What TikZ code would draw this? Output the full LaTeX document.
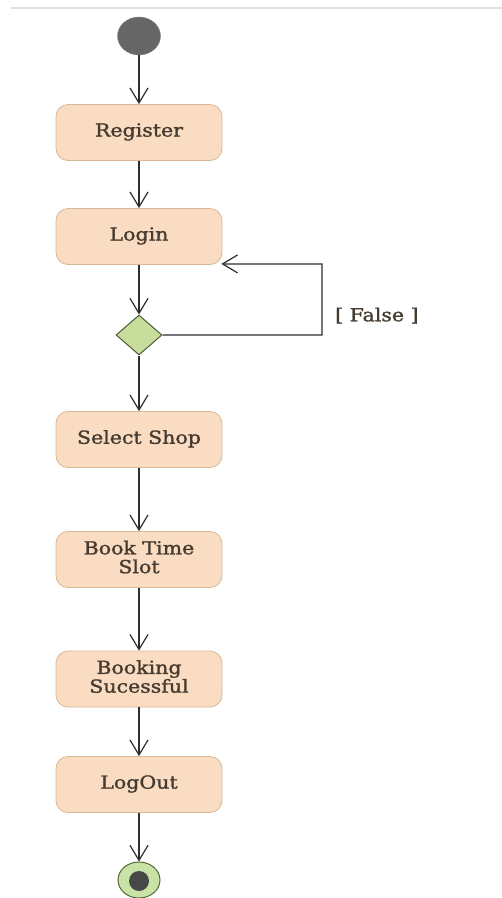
\documentclass[tikz,border=0pt]{standalone}
\usepackage{fontspec}
\setmainfont{DejaVu Serif}
\newfontfamily\lblfont[FakeBold=1.3]{DejaVu Serif}
\usepackage{graphicx}
\usetikzlibrary{arrows.meta,shapes.geometric,calc}
\definecolor{boxfill}{HTML}{FADCC2}
\definecolor{boxline}{HTML}{D9B898}
\definecolor{txt}{HTML}{463B30}
\definecolor{arrowc}{HTML}{2E2E2E}
\definecolor{diafill}{HTML}{C6DD9C}
\definecolor{dialine}{HTML}{4E5A3C}
\definecolor{endfill}{HTML}{C9E3A6}
\definecolor{endline}{HTML}{4F6B35}
\newcommand{\lbl}[1]{\scalebox{1.14}[1]{\begin{tabular}{@{}c@{}}#1\end{tabular}}}
\begin{document}
\begin{tikzpicture}[x=1pt,y=-1pt,
  act/.style={draw=boxline, line width=0.8pt, fill=boxfill, rounded corners=12pt,
    minimum width=166pt, minimum height=56pt, text=txt, inner sep=0pt,
    font=\lblfont\fontsize{18}{17}\selectfont},
  arr/.style={draw=arrowc, line width=1.2pt, -{Straight Barb[length=15pt,width=18pt,line width=1.2pt]}},
  dec/.style={diamond, draw=dialine, line width=1pt, fill=diafill, minimum width=46pt, minimum height=40pt, inner sep=0pt, aspect=1.15},
  ]
\useasboundingbox (0,0) rectangle (502,898);
\fill[white] (0,0) rectangle (502,898);
\draw[line width=2pt, color=black!12] (11,8) -- (502,8);
\node[ellipse, fill=black!60, draw=black!50, minimum width=43pt, minimum height=38pt, inner sep=0pt] (start) at (139,36) {};
\node[act] (reg) at (139,132.5) {\lbl{Register}};
\node[act] (login) at (139,236.5) {\lbl{Login}};
\node[dec] (dia) at (139,335) {};
\node[act] (shop) at (139,439.5) {\lbl{Select Shop}};
\node[act] (book) at (139,559.5) {\lbl{Book Time\\Slot}};
\node[act] (succ) at (139,679) {\lbl{Booking\\Sucessful}};
\node[act] (out) at (139,784.5) {\lbl{LogOut}};
\node[ellipse, fill=endfill, draw=endline, line width=1pt, minimum width=42pt, minimum height=36pt, inner sep=0pt] (end) at (139,880) {};
\node[ellipse, fill=black!72, minimum width=20pt, minimum height=20pt, inner sep=0pt] (endin) at (139,881) {};
\coordinate (lp) at (322,264);
\node[anchor=west, text=txt, font=\lblfont\fontsize{18}{17}\selectfont, inner sep=0pt] (false) at (335,317) {\lbl{[ False ]}};
\draw[arr] (start) -- (reg);
\draw[arr] (reg) -- (login);
\draw[arr] (login) -- (dia);
\draw[arr] (dia) -- (shop);
\draw[arr] (shop) -- (book);
\draw[arr] (book) -- (succ);
\draw[arr] (succ) -- (out);
\draw[arr] (out) -- (end);
\draw[arr] (dia.east) -| (lp) -- ($(login.south east)+(-1,-1)$);
\end{tikzpicture}
\end{document}
